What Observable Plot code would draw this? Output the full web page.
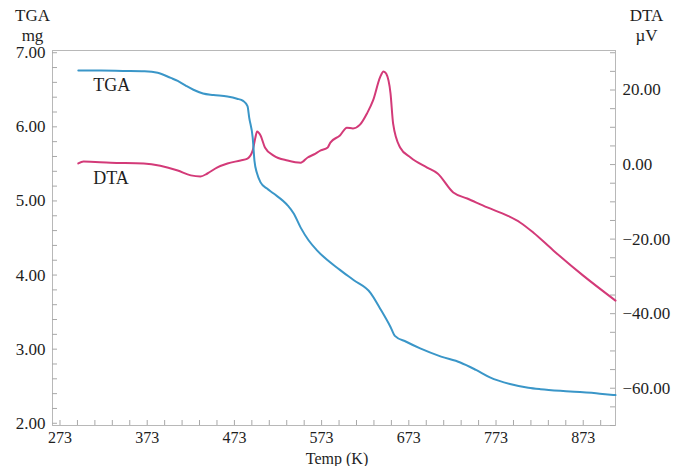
<!DOCTYPE html>
<html>
<head>
<meta charset="utf-8">
<script src="https://cdn.jsdelivr.net/npm/d3@7"></script>
<script src="https://cdn.jsdelivr.net/npm/@observablehq/plot@0.6"></script>
<style>
  html, body { margin: 0; padding: 0; background: white; }
</style>
</head>
<body>
<div id="chart"></div>
<script>
// Temperature (K) and TGA mass (mg)
const tgaTemp = [294, 320, 345, 370, 385, 400, 408, 418, 426, 437, 449, 465, 476, 483, 488, 490, 494, 496, 499, 503, 510, 518, 534, 541, 549, 558, 568, 594, 610, 629, 640, 652, 657, 670, 686, 710, 732, 750, 766, 789, 810, 824, 858, 892, 910];
const tgaMg   = [6.76, 6.76, 6.755, 6.75, 6.73, 6.66, 6.62, 6.55, 6.50, 6.45, 6.43, 6.41, 6.38, 6.35, 6.28, 6.12, 5.85, 5.54, 5.37, 5.25, 5.17, 5.10, 4.94, 4.83, 4.64, 4.47, 4.33, 4.07, 3.93, 3.76, 3.55, 3.30, 3.18, 3.10, 3.01, 2.90, 2.82, 2.72, 2.62, 2.53, 2.48, 2.46, 2.43, 2.40, 2.38];

// Temperature (K) and DTA signal (µV)
const dtaTemp = [294, 300, 331, 369, 388, 408, 423, 434, 442, 453, 465, 480, 488, 494, 497, 499, 503, 508, 518, 534, 549, 557, 564, 572, 580, 583, 594, 602, 609, 617, 625, 632, 640, 644, 647, 652, 655, 663, 675, 694, 706, 724, 740, 763, 786, 801, 816, 839, 873, 910];
const dtaUv   = [0.3, 0.8, 0.5, 0.3, -0.3, -1.6, -2.9, -3.2, -2.4, -0.8, 0.3, 1.1, 1.6, 3.8, 7.2, 8.9, 7.8, 4.6, 2.4, 1.1, 0.5, 1.9, 2.7, 3.8, 4.6, 5.9, 7.8, 9.9, 9.7, 10.7, 13.7, 17.2, 23.4, 25.0, 24.4, 19.1, 11.0, 4.6, 1.9, -0.8, -2.4, -7.5, -9.1, -11.5, -13.7, -15.6, -18.3, -23.1, -29.8, -36.5];

// Tick labels
const xTicks = [273, 373, 473, 573, 673, 773, 873];
const tgaTicks = [2, 3, 4, 5, 6, 7];
const dtaTicks = [-60, -40, -20, 0, 20];

// Scale setup
const xDomain = [264.4, 910];
const tgaDomain = [1.97, 7.03];
const dtaDomain = [-70, 30.6];
const toLeft = v => tgaDomain[0] + (v - dtaDomain[0]) * (tgaDomain[1] - tgaDomain[0]) / (dtaDomain[1] - dtaDomain[0]);
const fromLeft = m => dtaDomain[0] + (m - tgaDomain[0]) * (dtaDomain[1] - dtaDomain[0]) / (tgaDomain[1] - tgaDomain[0]);

const W = 679, H = 466, mT = 50, mB = 41, mL = 52, mR = 64;
const innerW = W - mL - mR, innerH = H - mT - mB;
const tickLen = 5;

const xMinor = d3.range(273, 910, 20);
const tgaMinor = d3.range(2, 7.01, 0.2);
const dtaMinor = d3.range(-70, 30.6, 5);

const tgaData = tgaTemp.map((t, i) => ({t, v: tgaMg[i]}));
const dtaData = dtaTemp.map((t, i) => ({t, v: toLeft(dtaUv[i])}));

const fmt = d3.format(".2f");
const serif = "Liberation Serif";
const txt = "#1e1e1e";
const gridGray = "#a8a8a8";

const chart = Plot.plot({
  width: W, height: H,
  marginTop: mT, marginBottom: mB, marginLeft: mL, marginRight: mR,
  style: {fontFamily: serif, fontSize: "17px", color: txt, background: "white"},
  x: {domain: xDomain},
  y: {domain: tgaDomain},
  marks: [
    Plot.frame({stroke: "#b8b8b8"}),
    // inward ticks
    Plot.tickX(xMinor, {x: d => d, insetTop: innerH - tickLen, stroke: gridGray}),
    Plot.tickY(tgaMinor, {y: d => d, insetRight: innerW - tickLen, stroke: gridGray}),
    Plot.tickY(dtaMinor.map(toLeft), {y: d => d, insetLeft: innerW - tickLen, stroke: gridGray}),
    // axes
    Plot.axisX(xTicks, {tickSize: 0, tickPadding: 6, tickFormat: d => String(d), label: null, fontSize: 16, fill: txt}),
    Plot.axisY(tgaTicks, {anchor: "left", tickSize: 0, tickPadding: 7, tickFormat: fmt, label: null, fontSize: 17, fill: txt}),
    Plot.axisY(dtaTicks.map(toLeft), {anchor: "right", tickSize: 0, tickPadding: 7, tickFormat: d => fmt(Math.round(fromLeft(d))), label: null, fontSize: 17, fill: txt}),
    // curves
    Plot.line(dtaData, {x: "t", y: "v", stroke: "#d33a78", strokeWidth: 2, curve: "monotone-x"}),
    Plot.line(tgaData, {x: "t", y: "v", stroke: "#3a96c8", strokeWidth: 2, curve: "monotone-x"}),
    // in-plot labels
    Plot.text(["TGA"], {x: 311, y: 6.56, text: d => d, textAnchor: "start", fontSize: 18, fill: txt}),
    Plot.text(["DTA"], {x: 311, y: 5.30, text: d => d, textAnchor: "start", fontSize: 18, fill: txt}),
    // axis titles
    Plot.text(["TGA\nmg"], {frameAnchor: "top-left", dx: -20, dy: -10, text: d => d, textAnchor: "middle", lineAnchor: "bottom", lineHeight: 1.12, fontSize: 17, fill: txt}),
    Plot.text(["DTA\nµV"], {frameAnchor: "top-right", dx: 31, dy: -10, text: d => d, textAnchor: "middle", lineAnchor: "bottom", lineHeight: 1.12, fontSize: 17, fill: txt}),
    Plot.text(["Temp (K)"], {frameAnchor: "bottom", dx: 3, dy: 38, text: d => d, textAnchor: "middle", lineAnchor: "bottom", fontSize: 16, fill: txt})
  ]
});
document.getElementById("chart").appendChild(chart);
</script>
</body>
</html>
